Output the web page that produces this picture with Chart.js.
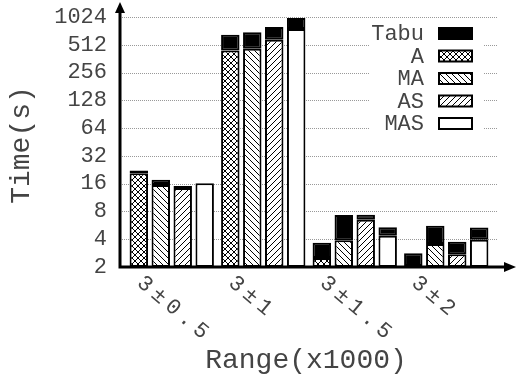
<!DOCTYPE html>
<html>
<head>
<meta charset="utf-8">
<script src="https://cdn.jsdelivr.net/npm/chart.js@4"></script>
<style>
  html, body { margin: 0; padding: 0; background: #fff; }
  canvas { display: block; }
</style>
</head>
<body>
<canvas id="chart" width="516" height="381"></canvas>
<script>
// Data
const categories = ['3±0.5', '3±1', '3±1.5', '3±2'];
const yTicks = [2, 4, 8, 16, 32, 64, 128, 256, 512, 1024];

// time of each method alone
const timeA   = [20.8, 445, 2.5, 2.05];
const timeMA  = [15.5, 464, 3.9, 3.55];
const timeAS  = [14.4, 581, 6.5, 2.75];
const timeMAS = [16.2, 760, 4.35, 3.95];

// extra time added by Tabu on top of each method
const tabuA   = [1.4, 213, 1.17, 0.77];
const tabuMA  = [2.1, 234, 3.4, 2.05];
const tabuAS  = [0.7, 217, 0.85, 1.0];
const tabuMAS = [0, 240, 1.05, 1.4];

const FONT = 'Liberation Mono';
const TEXT = '#444';

// Hatch patterns
function makePattern(kind) {
    const size = 6;
    const c = document.createElement('canvas');
    c.width = size; c.height = size;
    const g = c.getContext('2d');
    g.fillStyle = '#fff';
    g.fillRect(0, 0, size, size);
    g.strokeStyle = '#000';
    g.lineWidth = 1;
    const back = () => {
        g.beginPath();
        g.moveTo(-1, -1); g.lineTo(size + 1, size + 1);
        g.moveTo(-1, size - 1); g.lineTo(1, size + 1);
        g.moveTo(size - 1, -1); g.lineTo(size + 1, 1);
        g.stroke();
    };
    const fwd = () => {
        g.beginPath();
        g.moveTo(-1, size + 1); g.lineTo(size + 1, -1);
        g.moveTo(-1, 1); g.lineTo(1, -1);
        g.moveTo(size - 1, size + 1); g.lineTo(size + 1, size - 1);
        g.stroke();
    };
    if (kind === 'cross') { back(); fwd(); }
    if (kind === 'back') back();
    if (kind === 'fwd') fwd();
    return document.getElementById('chart').getContext('2d').createPattern(c, 'repeat');
}

const methods = [
    { name: 'A',   values: timeA,   tabu: tabuA,   fill: makePattern('cross') },
    { name: 'MA',  values: timeMA,  tabu: tabuMA,  fill: makePattern('back') },
    { name: 'AS',  values: timeAS,  tabu: tabuAS,  fill: makePattern('fwd') },
    { name: 'MAS', values: timeMAS, tabu: tabuMAS, fill: '#fff' }
];

const barStyle = {
    borderColor: '#000',
    borderWidth: 2,
    borderSkipped: false,
    categoryPercentage: 0.96,
    barPercentage: 0.84
};

const datasets = [];
methods.forEach(m => {
    datasets.push({ ...barStyle, label: m.name, data: m.values, backgroundColor: m.fill, stack: m.name });
});
methods.forEach(m => {
    datasets.push({
        ...barStyle,
        label: 'Tabu',
        data: m.values.map((v, i) => [v, v + m.tabu[i]]),
        backgroundColor: '#000',
        stack: m.name
    });
});

// Grid, axes with arrows, titles, rotated labels and legend
const decorations = {
    id: 'decorations',
    beforeDatasetsDraw(chart) {
        const { ctx, chartArea, scales } = chart;
        const axisX = chartArea.left - 6;
        ctx.save();
        ctx.strokeStyle = '#999';
        ctx.lineWidth = 1;
        ctx.setLineDash([1, 1]);
        yTicks.forEach(v => {
            const y = Math.round(scales.y.getPixelForValue(v)) + 0.5;
            ctx.beginPath();
            ctx.moveTo(axisX, y);
            ctx.lineTo(chartArea.right + 5, y);
            ctx.stroke();
        });
        ctx.restore();
    },
    afterDraw(chart) {
        const { ctx, chartArea, scales } = chart;
        const axisX = chartArea.left - 6;
        const axisY = scales.y.getPixelForValue(yTicks[0]);

        // legend
        ctx.save();
        ctx.fillStyle = '#fff';
        ctx.fillRect(370, 22, 113, 116);
        const items = [{ name: 'Tabu', fill: '#000' }].concat(methods);
        ctx.font = '22px "' + FONT + '"';
        ctx.textAlign = 'right';
        ctx.textBaseline = 'middle';
        items.forEach((it, k) => {
            const cy = 33.5 + k * 22.5;
            ctx.fillStyle = TEXT;
            ctx.fillText(it.name, 424, cy + 1);
            ctx.fillStyle = it.fill;
            ctx.fillRect(439, cy - 5.5, 33, 11);
            ctx.strokeStyle = '#000';
            ctx.lineWidth = 2;
            ctx.strokeRect(439, cy - 5.5, 33, 11);
        });
        ctx.restore();

        // axes
        ctx.save();
        ctx.strokeStyle = '#000';
        ctx.fillStyle = '#000';
        ctx.lineWidth = 3;
        ctx.beginPath();
        ctx.moveTo(axisX, axisY + 1.5);
        ctx.lineTo(axisX, 10);
        ctx.moveTo(axisX - 1.5, axisY);
        ctx.lineTo(506, axisY);
        ctx.stroke();
        ctx.beginPath();
        ctx.moveTo(axisX, 2);
        ctx.lineTo(axisX - 5, 13);
        ctx.lineTo(axisX + 5, 13);
        ctx.closePath();
        ctx.fill();
        ctx.beginPath();
        ctx.moveTo(516, axisY);
        ctx.lineTo(504, axisY - 5);
        ctx.lineTo(504, axisY + 5);
        ctx.closePath();
        ctx.fill();
        ctx.restore();

        // rotated category labels
        ctx.save();
        ctx.fillStyle = TEXT;
        ctx.font = '22px "' + FONT + '"';
        ctx.letterSpacing = '5px';
        ctx.textAlign = 'left';
        ctx.textBaseline = 'middle';
        categories.forEach((c, i) => {
            const cx = scales.x.getPixelForValue(i);
            ctx.save();
            ctx.translate(cx - 32, 280);
            ctx.rotate(40 * Math.PI / 180);
            ctx.fillText(c, 0, 0);
            ctx.restore();
        });
        ctx.restore();

        // axis titles
        ctx.save();
        ctx.fillStyle = TEXT;
        ctx.font = '28px "' + FONT + '"';
        ctx.textAlign = 'center';
        ctx.textBaseline = 'middle';
        ctx.fillText('Range(x1000)', 306, 361);
        ctx.translate(22, 145);
        ctx.rotate(-Math.PI / 2);
        ctx.fillText('Time(s)', 0, 0);
        ctx.restore();
    }
};

new Chart(document.getElementById('chart'), {
    type: 'bar',
    data: { labels: categories, datasets: datasets },
    options: {
        responsive: false,
        animation: false,
        layout: { padding: { top: 17, right: 24, bottom: 114, left: 0 } },
        plugins: { legend: { display: false }, tooltip: { enabled: false } },
        scales: {
            x: { display: false },
            y: {
                type: 'logarithmic',
                min: 2,
                max: 1024,
                stacked: false,
                afterBuildTicks: s => { s.ticks = yTicks.map(v => ({ value: v })); },
                afterFit: s => {
                    s.width = 126;
                    s.paddingTop = 0;
                    s.paddingBottom = 0;
                },
                grid: { display: false },
                border: { display: false },
                ticks: {
                    autoSkip: false,
                    padding: 11,
                    color: TEXT,
                    font: { family: FONT, size: 22 },
                    callback: v => String(v)
                }
            }
        }
    },
    plugins: [decorations]
});
</script>
</body>
</html>
